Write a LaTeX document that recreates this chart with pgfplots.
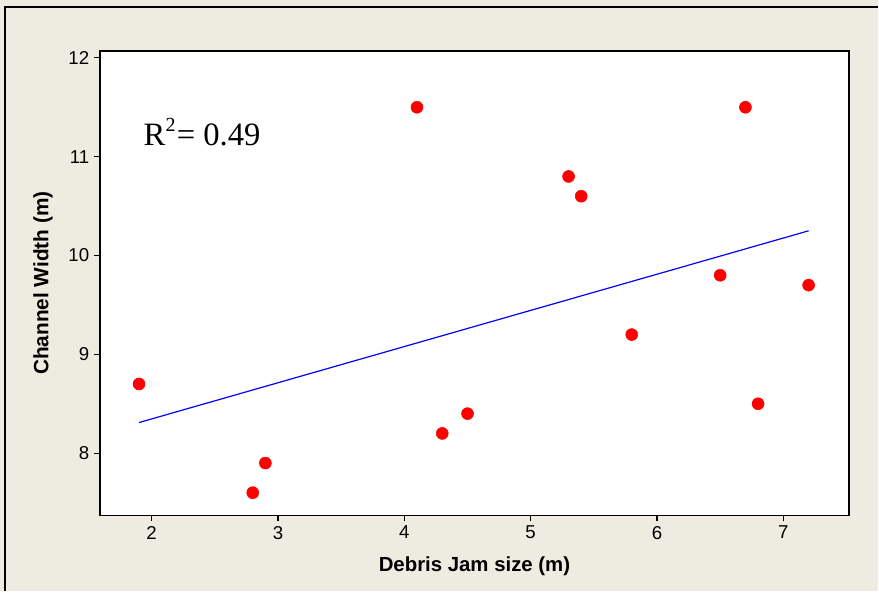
\documentclass[border=0pt]{standalone}
\usepackage{pgfplots}
\pgfplotsset{compat=1.18}
\usepackage{fontspec}
\setmainfont{Liberation Sans}
\newfontfamily\timesfont{Liberation Serif}
\definecolor{panelbg}{RGB}{238,235,225}

\begin{document}
\begin{tikzpicture}
% page background (1px = 0.75pt)
\fill[panelbg] (-75pt,-57pt) rectangle (584.25pt,387pt);
\draw[line width=1.5pt] (-71.25pt,-57pt) -- (-71.25pt,381.75pt) -- (584.25pt,381.75pt);
\begin{axis}[
    scale only axis,
    width=562.5pt, height=348.75pt,
    xmin=1.59, xmax=7.52,
    ymin=7.37, ymax=12.07,
    xtick={2,3,4,5,6,7},
    ytick={8,9,10,11,12},
    xtick pos=left, ytick pos=left,
    tick align=outside,
    major tick length=4.5pt,
    axis line style={line width=1pt},
    tick style={line width=0.8pt, black},
    axis background/.style={fill=white},
    ticklabel style={font=\fontsize{14}{16}\selectfont},
    /pgf/number format/assume math mode=true,
    xlabel={Debris Jam size (m)},
    ylabel={Channel Width (m)},
    every axis x label/.style={at={(axis description cs:0.5,-0.1204)}, anchor=base,
        font=\fontsize{15.3}{18}\selectfont\bfseries},
    every axis y label/.style={at={(axis description cs:-0.076,0.5)}, rotate=90, anchor=center,
        font=\fontsize{15.6}{18}\selectfont\bfseries},
]
\addplot[only marks, mark=*, mark size=4.5pt, color=red, mark options={fill=red, draw=red}] coordinates {
    (1.9,8.7) (2.8,7.6) (2.9,7.9) (4.1,11.5) (4.3,8.2) (4.5,8.4)
    (5.3,10.8) (5.4,10.6) (5.8,9.2) (6.5,9.8) (6.7,11.5) (6.8,8.5) (7.2,9.7)
};
\addplot[color=blue, line width=0.9pt] coordinates {(1.9,8.31) (7.2,10.25)};
\node[anchor=base west, font=\timesfont\fontsize{24.5}{28}\selectfont, inner sep=0pt] at (axis cs:1.935,11.11)
    {R\raisebox{0.45em}{\fontsize{15}{17}\selectfont 2}\kern1pt= 0.49};
\end{axis}
\end{tikzpicture}
\end{document}
